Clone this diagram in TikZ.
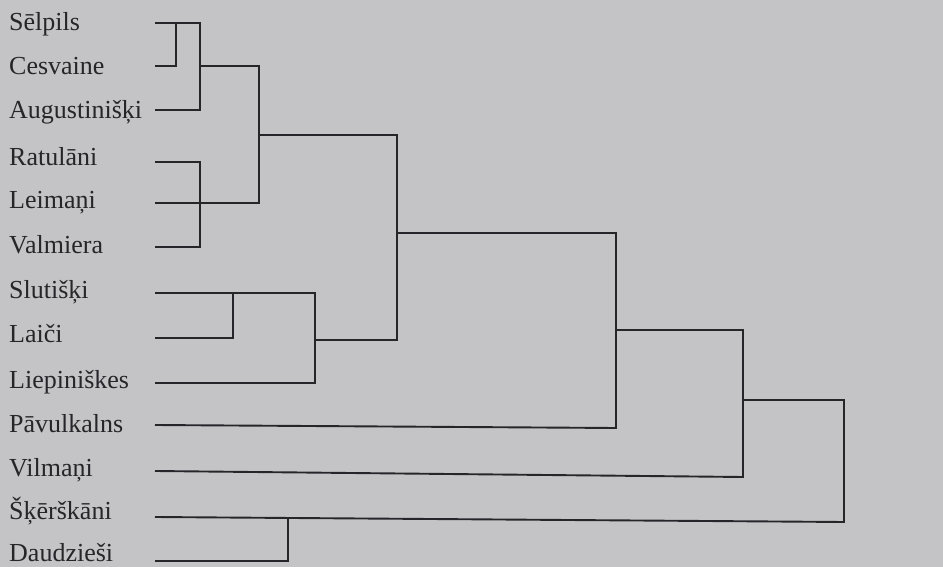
\documentclass[tikz,border=0pt]{standalone}
\usepackage{fontspec}
\setmainfont{Liberation Serif}
\definecolor{paper}{RGB}{196,195,198}
\definecolor{ink}{RGB}{38,38,42}
\begin{document}
\begin{tikzpicture}[x=1pt,y=-1pt,
  link/.style={draw=ink,line width=1.9pt},
  lbl/.style={anchor=base west,inner sep=0pt,text=ink,font=\fontsize{26}{26}\selectfont}]
\fill[paper] (0,0) rectangle (943,567);
\useasboundingbox (0,0) rectangle (943,567);

% labels
\node[lbl] (nS)  at (9,31)  {Sēlpils};
\node[lbl] (nC)  at (9,75)  {Cesvaine};
\node[lbl] (nA)  at (9,119) {Augustinišķi};
\node[lbl] (nR)  at (9,166) {Ratulāni};
\node[lbl] (nLe) at (9,208) {Leimaņi};
\node[lbl] (nV)  at (9,253) {Valmiera};
\node[lbl] (nSl) at (9,298) {Slutišķi};
\node[lbl] (nLa) at (9,342) {Laiči};
\node[lbl] (nLi) at (9,388) {Liepiniškes};
\node[lbl] (nP)  at (9,432) {Pāvulkalns};
\node[lbl] (nVi) at (9,476) {Vilmaņi};
\node[lbl] (nSk) at (9,519) {Šķērškāni};
\node[lbl] (nD)  at (9,561) {Daudzieši};

% leaf line starts
\coordinate (aS)  at (155,23);
\coordinate (aC)  at (155,66);
\coordinate (aA)  at (155,110);
\coordinate (aR)  at (155,162);
\coordinate (aLe) at (155,203);
\coordinate (aV)  at (155,247);
\coordinate (aSl) at (155,293);
\coordinate (aLa) at (155,338);
\coordinate (aLi) at (155,383);
\coordinate (aP)  at (155,425);
\coordinate (aVi) at (155,471);
\coordinate (aSk) at (155,517);
\coordinate (aD)  at (155,561);

% junctions
\coordinate (k1)  at (176,23);
\coordinate (k2t) at (200,23);
\coordinate (k2b) at (200,110);
\coordinate (k2m) at (200,66);
\coordinate (k3t) at (200,162);
\coordinate (k3b) at (200,247);
\coordinate (k4t) at (259,66);
\coordinate (k4b) at (259,203);
\coordinate (k4m) at (259,135);
\coordinate (k5)  at (233,293);
\coordinate (k6t) at (315,293);
\coordinate (k6b) at (315,383);
\coordinate (k6m) at (315,340);
\coordinate (k7t) at (397,135);
\coordinate (k7b) at (397,340);
\coordinate (k7m) at (397,233);
\coordinate (k8t) at (616,233);
\coordinate (k8b) at (616,428);
\coordinate (k8m) at (616,330);
\coordinate (k9t) at (743,330);
\coordinate (k9b) at (743,477);
\coordinate (k9m) at (743,400);
\coordinate (k10) at (288,517);
\coordinate (k11t) at (844,400);
\coordinate (k11b) at (844,522);

% tree
\draw[link] (aC) -| (k1);
\draw[link] (aS) -- (k2t) -- (k2b) -- (aA);
\draw[link] (aR) -- (k3t) -- (k3b) -- (aV);
\draw[link] (k2m) -- (k4t) -- (k4b) -- (aLe);
\draw[link] (aLa) -| (k5);
\draw[link] (aSl) -- (k6t) -- (k6b) -- (aLi);
\draw[link] (k4m) -- (k7t) -- (k7b) -- (k6m);
\draw[link] (k7m) -- (k8t) -- (k8b) -- (aP);
\draw[link] (k8m) -- (k9t) -- (k9b) -- (aVi);
\draw[link] (aD) -| (k10);
\draw[link] (k9m) -- (k11t) -- (k11b) -- (aSk);
\end{tikzpicture}
\end{document}
